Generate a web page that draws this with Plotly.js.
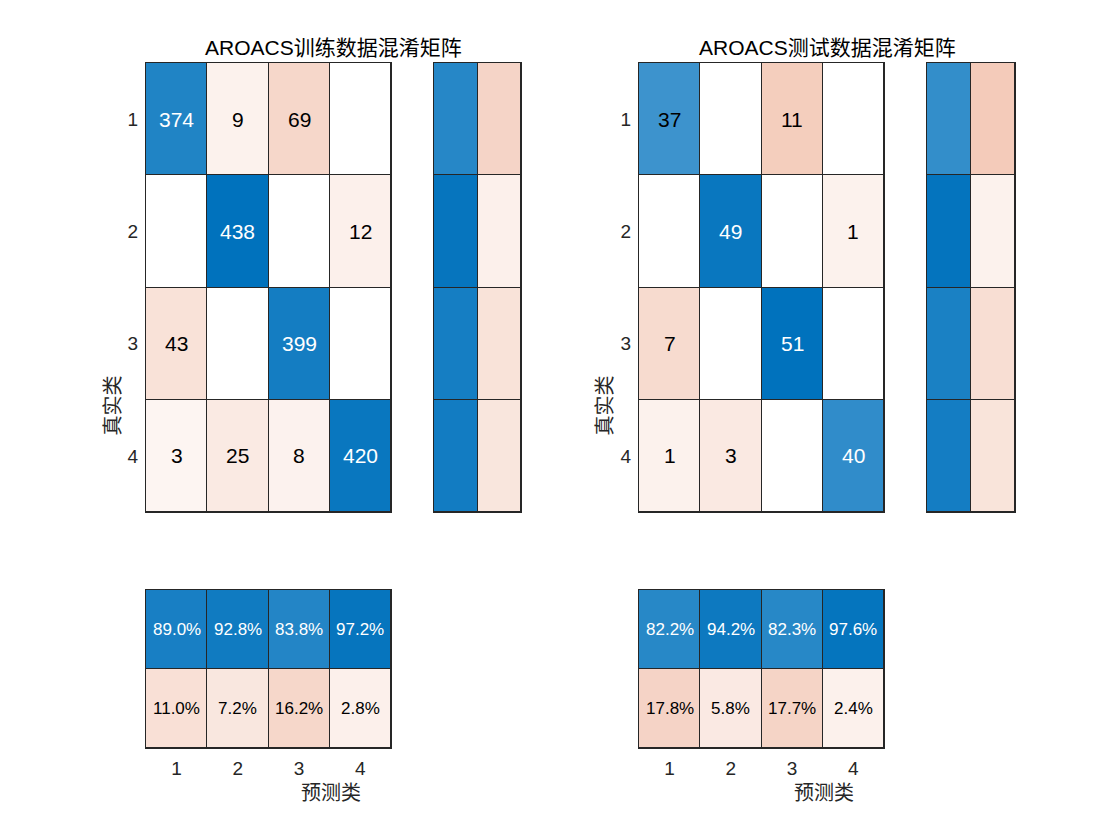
<!DOCTYPE html>
<html>
<head>
<meta charset="utf-8">
<script src="https://cdn.plot.ly/plotly-3.0.1.min.js"></script>
<style>html,body{margin:0;padding:0;background:#fff;}#chart{width:1120px;height:840px;}</style>
</head>
<body>
<div id="chart"></div>
<script>
// ---------- data ----------
const classLabels = ['1', '2', '3', '4'];
const trainTitle = 'AROACS训练数据混淆矩阵';
const testTitle = 'AROACS测试数据混淆矩阵';
const xTitle = '预测类';
const yTitle = '真实类';

const trainCounts = [
  [374, 9, 69, 0],
  [0, 438, 0, 12],
  [43, 0, 399, 0],
  [3, 25, 8, 420]
];
const testCounts = [
  [37, 0, 11, 0],
  [0, 49, 0, 1],
  [7, 0, 51, 0],
  [1, 3, 0, 40]
];
// column summary (precision / false discovery), %
const trainColCorrect = [89.0, 92.8, 83.8, 97.2];
const trainColWrong = [11.0, 7.2, 16.2, 2.8];
const testColCorrect = [82.2, 94.2, 82.3, 97.6];
const testColWrong = [17.8, 5.8, 17.7, 2.4];
// row summary (recall / false negative), % (no text shown)
const trainRowCorrect = [82.7, 97.3, 90.3, 92.1];
const trainRowWrong = [17.3, 2.7, 9.7, 7.9];
const testRowCorrect = [77.1, 98.0, 87.9, 90.9];
const testRowWrong = [22.9, 2.0, 12.1, 9.1];

// ---------- style ----------
const BLUE = [0, 114, 189];
const ORANGE = [217, 83, 25];
const FLOOR = 0.05, G = 0.9;
const FONT = '"Liberation Sans", Arial, "Noto Sans CJK SC", sans-serif';
const INK = '#262626';

function mix(base, t) {
  const f = FLOOR + (1 - FLOOR) * Math.pow(t, G);
  return 'rgb(' + base.map(b => Math.round(255 + (b - 255) * f)).join(',') + ')';
}
const scale = [];
const NS = 50;
const EPS = 0.001;
for (let k = 0; k < NS; k++) {           // orange side, z from -1 towards 0
  const z = -1 + k / NS;
  scale.push([k / (2 * NS), mix(ORANGE, -z)]);
}
scale.push([0.5 - EPS, mix(ORANGE, 0)]);
scale.push([0.5, 'rgb(255,255,255)']);
scale.push([0.5 + EPS, mix(BLUE, 0)]);
for (let k = 1; k <= NS; k++) {          // blue side
  const z = k / NS;
  scale.push([0.5 + k / (2 * NS), mix(BLUE, z)]);
}

const W = 1120, H = 840;
const px = v => v / W;
const py = v => 1 - v / H;

const panels = [
  {counts: trainCounts, colC: trainColCorrect, colW: trainColWrong, rowC: trainRowCorrect, rowW: trainRowWrong,
   title: trainTitle, gx: [146, 391], rx: [434, 521], ax: 1, ytx: 112},
  {counts: testCounts, colC: testColCorrect, colW: testColWrong, rowC: testRowCorrect, rowW: testRowWrong,
   title: testTitle, gx: [639, 884], rx: [927, 1015], ax: 4, ytx: 604}
];
const gridY = [63, 512];
const colSumY = [590, 748];

const data = [];
const annotations = [];
const layout = {
  width: W, height: H,
  margin: {l: 0, r: 0, t: 0, b: 0},
  paper_bgcolor: '#ffffff',
  plot_bgcolor: INK,
  showlegend: false,
  font: {family: FONT, color: INK, size: 18},
  annotations: annotations
};

const cats = classLabels.map((_, i) => i + 1);

function axBase() {
  return {showgrid: false, zeroline: false, showline: true, mirror: true, linecolor: INK, linewidth: 1,
          ticks: '', fixedrange: true, showticklabels: false};
}

panels.forEach(p => {
  const a = p.ax, b = p.ax + 1, c = p.ax + 2;
  const xn = n => 'x' + (n === 1 ? '' : n);
  const yn = n => 'y' + (n === 1 ? '' : n);
  const xl = n => 'xaxis' + (n === 1 ? '' : n);
  const yl = n => 'yaxis' + (n === 1 ? '' : n);

  // main grid
  let maxV = 0;
  p.counts.forEach(r => r.forEach(v => { if (v > maxV) maxV = v; }));
  const zMain = p.counts.map((r, i) => r.map((v, j) => (i === j ? 1 : -1) * v / maxV));
  data.push({type: 'heatmap', x: cats, y: cats, z: zMain, zmin: -1, zmax: 1, colorscale: scale,
             showscale: false, xgap: 1, ygap: 1, hoverinfo: 'skip', xaxis: xn(a), yaxis: yn(a)});
  p.counts.forEach((r, i) => r.forEach((v, j) => {
    if (v === 0) return;
    const t = v / maxV;
    annotations.push({x: j + 1, y: i + 1, xref: xn(a), yref: yn(a), text: String(v), showarrow: false,
      font: {size: 21, family: FONT, color: (i === j && t > 0.75) ? '#ffffff' : '#000000'}});
  }));
  layout[xl(a)] = Object.assign(axBase(), {domain: [px(p.gx[0]), px(p.gx[1])], range: [0.5, 4.5], anchor: yn(a)});
  layout[yl(a)] = Object.assign(axBase(), {domain: [py(gridY[1]), py(gridY[0])], range: [4.5, 0.5], anchor: xn(a),
    showticklabels: true, tickvals: cats, ticktext: classLabels, ticklabelstandoff: 3,
    tickfont: {size: 19, family: FONT, color: INK}});

  // row summary
  const zRow = p.rowC.map((v, i) => [v / 100, -p.rowW[i] / 100]);
  data.push({type: 'heatmap', x: [1, 2], y: cats, z: zRow, zmin: -1, zmax: 1, colorscale: scale,
             showscale: false, xgap: 1, ygap: 1, hoverinfo: 'skip', xaxis: xn(b), yaxis: yn(b)});
  layout[xl(b)] = Object.assign(axBase(), {domain: [px(p.rx[0]), px(p.rx[1])], range: [0.5, 2.5], anchor: yn(b)});
  layout[yl(b)] = Object.assign(axBase(), {domain: [py(gridY[1]), py(gridY[0])], range: [4.5, 0.5], anchor: xn(b)});

  // column summary
  const zCol = [p.colC.map(v => v / 100), p.colW.map(v => -v / 100)];
  data.push({type: 'heatmap', x: cats, y: [1, 2], z: zCol, zmin: -1, zmax: 1, colorscale: scale,
             showscale: false, xgap: 1, ygap: 1, hoverinfo: 'skip', xaxis: xn(c), yaxis: yn(c)});
  p.colC.forEach((v, j) => {
    annotations.push({x: j + 1, y: 1, xref: xn(c), yref: yn(c), text: v.toFixed(1) + '%', showarrow: false,
      font: {size: 17, family: FONT, color: v / 100 > 0.75 ? '#ffffff' : '#000000'}});
  });
  p.colW.forEach((v, j) => {
    annotations.push({x: j + 1, y: 2, xref: xn(c), yref: yn(c), text: v.toFixed(1) + '%', showarrow: false,
      font: {size: 17, family: FONT, color: '#000000'}});
  });
  layout[xl(c)] = Object.assign(axBase(), {domain: [px(p.gx[0]), px(p.gx[1])], range: [0.5, 4.5], anchor: yn(c),
    showticklabels: true, tickvals: cats, ticktext: classLabels, ticklabelstandoff: 3,
    tickfont: {size: 19, family: FONT, color: INK}});
  layout[yl(c)] = Object.assign(axBase(), {domain: [py(colSumY[1]), py(colSumY[0])], range: [2.5, 0.5], anchor: xn(c)});

  // titles
  const cx = (p.gx[0] + p.rx[1]) / 2;
  annotations.push({xref: 'paper', yref: 'paper', x: px(cx), y: py(47), text: p.title, showarrow: false,
    xanchor: 'center', yanchor: 'middle', font: {size: 21, family: FONT, color: '#000000'}});
  annotations.push({xref: 'paper', yref: 'paper', x: px(cx - 3), y: py(793), text: xTitle, showarrow: false,
    xanchor: 'center', yanchor: 'middle', font: {size: 20, family: FONT, color: INK}});
  annotations.push({xref: 'paper', yref: 'paper', x: px(p.ytx), y: py((gridY[0] + colSumY[1]) / 2), text: yTitle,
    showarrow: false, textangle: -90, xanchor: 'center', yanchor: 'middle', font: {size: 20, family: FONT, color: INK}});
});

Plotly.newPlot('chart', data, layout, {staticPlot: true, displayModeBar: false});
</script>
</body>
</html>
